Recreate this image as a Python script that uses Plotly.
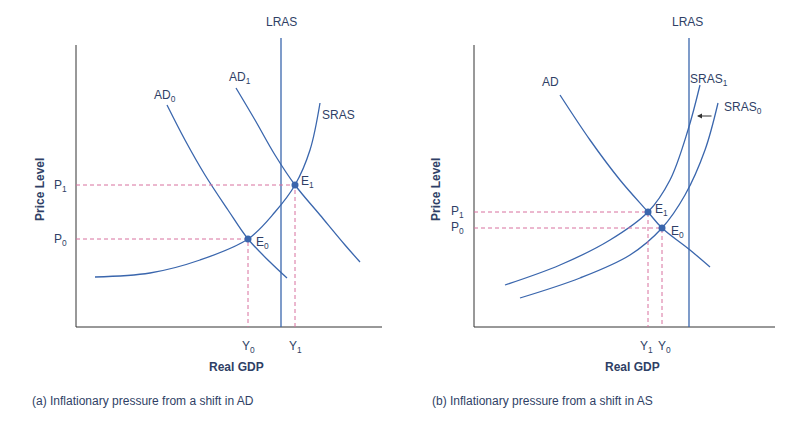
import plotly.graph_objects as go

BLUE = "#3a66ad"
TXT = "#2f3f66"
PINK = "#d8709e"

# Panel (a) curves (x, y in picture coordinates)
ad0_x = [167, 185, 205, 228, 248, 270, 287]
ad0_y = [105, 140, 175, 210, 239, 262, 278]
ad1_x = [236, 255, 275, 295, 320, 345, 360]
ad1_y = [88, 120, 155, 185, 215, 245, 262]
sras_x = [95, 150, 200, 248, 275, 295, 310, 320]
sras_y = [277, 273, 260, 239, 212, 185, 150, 103]
lras_a_x = 281
eq_a_x = [248, 295]
eq_a_y = [239, 185]

# Panel (b) curves
ad_b_x = [560, 590, 620, 648, 662, 690, 710]
ad_b_y = [95, 140, 180, 212, 228, 250, 267]
sras1_x = [505, 560, 610, 648, 670, 688, 700]
sras1_y = [285, 265, 240, 212, 180, 130, 85]
sras0_x = [520, 580, 630, 662, 685, 705, 718]
sras0_y = [298, 278, 255, 228, 195, 150, 103]
lras_b_x = 689
eq_b_x = [648, 662]
eq_b_y = [212, 228]

fig = go.Figure()
line = dict(color=BLUE, width=1.3, shape="spline")
for xs, ys in [(ad0_x, ad0_y), (ad1_x, ad1_y), (sras_x, sras_y),
               (ad_b_x, ad_b_y), (sras1_x, sras1_y), (sras0_x, sras0_y)]:
    fig.add_trace(go.Scatter(x=xs, y=ys, mode="lines", line=line, hoverinfo="skip"))

# Axes & LRAS
for x0, x1 in [(76, 382), (474, 775)]:
    fig.add_trace(go.Scatter(x=[x0, x0, x1], y=[45, 327, 327], mode="lines",
                             line=dict(color="#333", width=1)))
for lx in [lras_a_x, lras_b_x]:
    fig.add_trace(go.Scatter(x=[lx, lx], y=[38, 327], mode="lines",
                             line=dict(color=BLUE, width=1.3)))

# Dashed guides
for (ex, ey), x0 in [((eq_a_x[i], eq_a_y[i]), 76) for i in range(2)] + \
                    [((eq_b_x[i], eq_b_y[i]), 474) for i in range(2)]:
    fig.add_trace(go.Scatter(x=[x0, ex, ex], y=[ey, ey, 327], mode="lines",
                             line=dict(color=PINK, width=1, dash="4px,3px")))

fig.add_trace(go.Scatter(x=eq_a_x + eq_b_x, y=eq_a_y + eq_b_y, mode="markers",
                         marker=dict(color=BLUE, size=7)))

# Shift arrow
fig.add_annotation(x=697, y=116, ax=713, ay=116, xref="x", yref="y", axref="x", ayref="y",
                   showarrow=True, arrowhead=2, arrowsize=1, arrowwidth=1, arrowcolor="#333", text="")

labels = [
    (281, 22, "LRAS"), (165, 96, "AD<sub>0</sub>"), (240, 78, "AD<sub>1</sub>"),
    (338, 115, "SRAS"), (307, 182, "E<sub>1</sub>"), (262, 243, "E<sub>0</sub>"),
    (60, 186, "P<sub>1</sub>"), (60, 240, "P<sub>0</sub>"),
    (248, 347, "Y<sub>0</sub>"), (295, 347, "Y<sub>1</sub>"),
    (687, 22, "LRAS"), (550, 82, "AD"), (709, 80, "SRAS<sub>1</sub>"),
    (743, 108, "SRAS<sub>0</sub>"), (661, 210, "E<sub>1</sub>"), (677, 232, "E<sub>0</sub>"),
    (457, 212, "P<sub>1</sub>"), (457, 228, "P<sub>0</sub>"),
    (646, 347, "Y<sub>1</sub>"), (664, 347, "Y<sub>0</sub>"),
]
for x, y, t in labels:
    fig.add_annotation(x=x, y=y, text=t, showarrow=False, font=dict(size=12, color=TXT))
for x, y, t in [(236, 367, "Real GDP"), (632, 367, "Real GDP")]:
    fig.add_annotation(x=x, y=y, text="<b>" + t + "</b>", showarrow=False, font=dict(size=12, color=TXT))
for x in [40, 436]:
    fig.add_annotation(x=x, y=190, text="<b>Price Level</b>", textangle=-90, showarrow=False,
                       font=dict(size=12, color=TXT))
fig.add_annotation(x=30, y=401, text="(a) Inflationary pressure from a shift in AD", xanchor="left",
                   showarrow=False, font=dict(size=12, color=TXT))
fig.add_annotation(x=430, y=401, text="(b) Inflationary pressure from a shift in AS", xanchor="left",
                   showarrow=False, font=dict(size=12, color=TXT))

fig.update_layout(width=803, height=424, margin=dict(l=0, r=0, t=0, b=0),
                  plot_bgcolor="white", paper_bgcolor="white", showlegend=False,
                  font=dict(family="Liberation Sans, Arial"),
                  xaxis=dict(range=[8, 811], visible=False, fixedrange=True),
                  yaxis=dict(range=[432, 8], visible=False, fixedrange=True))
fig.write_html("out.html")
